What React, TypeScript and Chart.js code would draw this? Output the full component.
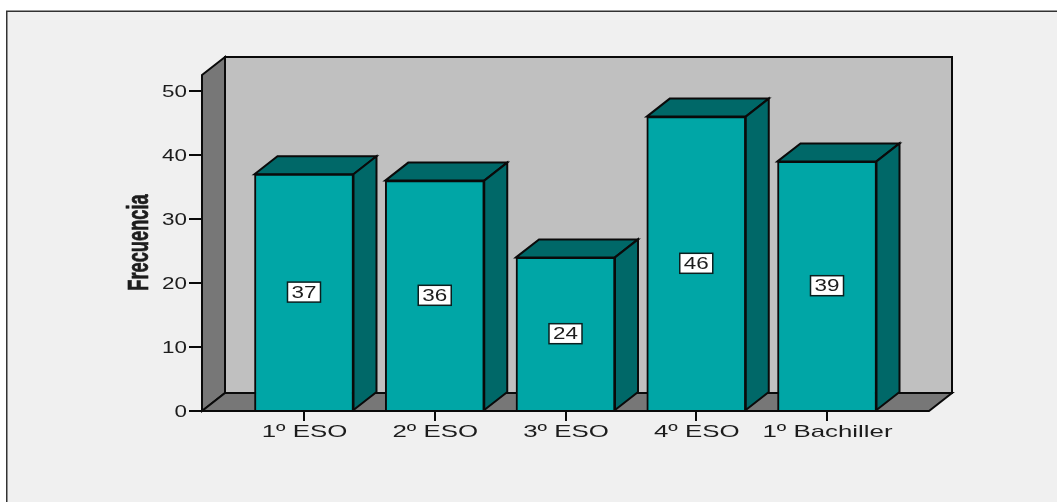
import React, { useEffect, useRef } from "react";
import { Chart, registerables } from "chart.js";

Chart.register(...registerables);

const categories = ["1º ESO", "2º ESO", "3º ESO", "4º ESO", "1º Bachiller"];
const frequencies = [37, 36, 24, 46, 39];
const yTicks = [0, 10, 20, 30, 40, 50];
const yMax = 52.5;
const yTitle = "Frecuencia";

const DEPTH_X = 23;
const DEPTH_Y = 18;
const INK = "#0a0a0a";
const TEXT = "#1c1c1c";
const SANS = '"Liberation Sans", Arial, sans-serif';

function poly(ctx: CanvasRenderingContext2D, pts: number[][], fill: string, lw = 2) {
  ctx.beginPath();
  pts.forEach(([x, y], i) => (i ? ctx.lineTo(x, y) : ctx.moveTo(x, y)));
  ctx.closePath();
  ctx.fillStyle = fill;
  ctx.fill();
  ctx.lineWidth = lw;
  ctx.strokeStyle = INK;
  ctx.lineJoin = "miter";
  ctx.stroke();
}

// Horizontally widened text, as the SPSS-style export draws its labels
function wideText(
  ctx: CanvasRenderingContext2D,
  text: string,
  x: number,
  y: number,
  font: string,
  sx: number,
  align: CanvasTextAlign = "center",
  heavy = 0
) {
  ctx.save();
  ctx.translate(x, y);
  ctx.scale(sx, 1);
  ctx.font = font;
  ctx.fillStyle = TEXT;
  ctx.textAlign = align;
  ctx.textBaseline = "middle";
  ctx.fillText(text, 0, 0);
  if (heavy) {
    ctx.strokeStyle = TEXT;
    ctx.lineWidth = heavy;
    ctx.strokeText(text, 0, 0);
  }
  ctx.restore();
}

const framePlugin = {
  id: "frameAndWalls",
  beforeDraw(chart: any) {
    const { ctx } = chart;
    ctx.save();
    ctx.fillStyle = "#ffffff";
    ctx.fillRect(0, 0, chart.width, chart.height);
    ctx.fillStyle = "#f0f0f0";
    ctx.fillRect(7, 11, chart.width - 7, chart.height - 11);
    ctx.strokeStyle = "#333333";
    ctx.lineWidth = 1.5;
    ctx.beginPath();
    ctx.moveTo(6.75, chart.height);
    ctx.lineTo(6.75, 11.25);
    ctx.lineTo(chart.width, 11.25);
    ctx.stroke();
    ctx.restore();
  },
  beforeDatasetsDraw(chart: any) {
    const { ctx, chartArea: a } = chart;
    const { left: l, right: r, top: t, bottom: b } = a;
    ctx.save();
    // back wall, side wall and floor of the box
    poly(ctx, [[l + DEPTH_X, t - DEPTH_Y], [r + DEPTH_X, t - DEPTH_Y], [r + DEPTH_X, b - DEPTH_Y], [l + DEPTH_X, b - DEPTH_Y]], "#c0c0c0");
    poly(ctx, [[l, t], [l + DEPTH_X, t - DEPTH_Y], [l + DEPTH_X, b - DEPTH_Y], [l, b]], "#777777");
    poly(ctx, [[l, b], [l + DEPTH_X, b - DEPTH_Y], [r + DEPTH_X, b - DEPTH_Y], [r, b]], "#777777");
    // top and side faces of every bar
    chart.getDatasetMeta(0).data.forEach((bar: any) => {
      const x0 = bar.x - bar.width / 2;
      const x1 = bar.x + bar.width / 2;
      poly(ctx, [[x0, bar.y], [x0 + DEPTH_X, bar.y - DEPTH_Y], [x1 + DEPTH_X, bar.y - DEPTH_Y], [x1, bar.y]], "#006868");
      poly(ctx, [[x1, bar.y], [x1 + DEPTH_X, bar.y - DEPTH_Y], [x1 + DEPTH_X, bar.base - DEPTH_Y], [x1, bar.base]], "#006868");
    });
    ctx.restore();
  },
  afterDatasetsDraw(chart: any) {
    const { ctx, scales } = chart;
    ctx.save();
    // value tags centred on each bar's front face
    chart.getDatasetMeta(0).data.forEach((bar: any, i: number) => {
      const cy = (bar.y + bar.base) / 2;
      ctx.fillStyle = "#ffffff";
      ctx.strokeStyle = "#0a1f1f";
      ctx.lineWidth = 1.5;
      ctx.fillRect(bar.x - 16.5, cy - 10, 33, 20);
      ctx.strokeRect(bar.x - 16.5, cy - 10, 33, 20);
      wideText(ctx, String(frequencies[i]), bar.x, cy + 1, `16px ${SANS}`, 1.4);
    });
    // axis text
    scales.x.ticks.forEach((_: any, i: number) => {
      wideText(ctx, categories[i], scales.x.getPixelForTick(i) + 0.5, 432, `17px ${SANS}`, 1.52);
    });
    scales.y.ticks.forEach((t: any, i: number) => {
      wideText(ctx, String(t.value), 187, scales.y.getPixelForTick(i) + 1.5, `16px ${SANS}`, 1.4, "right");
    });
    ctx.save();
    ctx.translate(140, 242.5);
    ctx.rotate(-Math.PI / 2);
    wideText(ctx, yTitle, 0, 0, `bold 29px ${SANS}`, 0.63, "center", 0.7);
    ctx.restore();
    ctx.restore();
  },
};

export default function App() {
  const ref = useRef<HTMLCanvasElement>(null);

  useEffect(() => {
    const chart = new Chart(ref.current!, {
      type: "bar",
      data: {
        datasets: [
          {
            data: frequencies.map((y, x) => ({ x, y })),
            backgroundColor: "#00a6a6",
            borderColor: INK,
            borderWidth: 2,
            barThickness: 99,
          },
        ],
      },
      options: {
        responsive: false,
        animation: false,
        layout: { padding: { top: 75, right: 128 } },
        plugins: { legend: { display: false }, tooltip: { enabled: false } },
        scales: {
          x: {
            type: "linear",
            offset: false,
            min: -0.78,
            max: 4.78,
            afterBuildTicks(s: any) {
              s.ticks = categories.map((_, value) => ({ value }));
            },
            afterFit(s: any) {
              s.height = 91;
            },
            ticks: { display: false },
            grid: { offset: false, drawOnChartArea: false, drawTicks: true, tickLength: 10, color: INK, lineWidth: 2 },
            border: { display: false },
          },
          y: {
            min: 0,
            max: yMax,
            afterBuildTicks(s: any) {
              s.ticks = yTicks.map((value) => ({ value }));
            },
            afterFit(s: any) {
              s.width = 202;
            },
            ticks: { display: false },
            grid: { drawOnChartArea: false, drawTicks: true, tickLength: 13, color: INK, lineWidth: 2 },
            border: { display: false },
          },
        },
      },
      plugins: [framePlugin],
    } as any);
    return () => chart.destroy();
  }, []);

  return (
    <div style={{ position: "absolute", left: 0, top: 0, width: 1057, height: 502 }}>
      <canvas ref={ref} width={1057} height={502} style={{ display: "block" }} />
    </div>
  );
}
